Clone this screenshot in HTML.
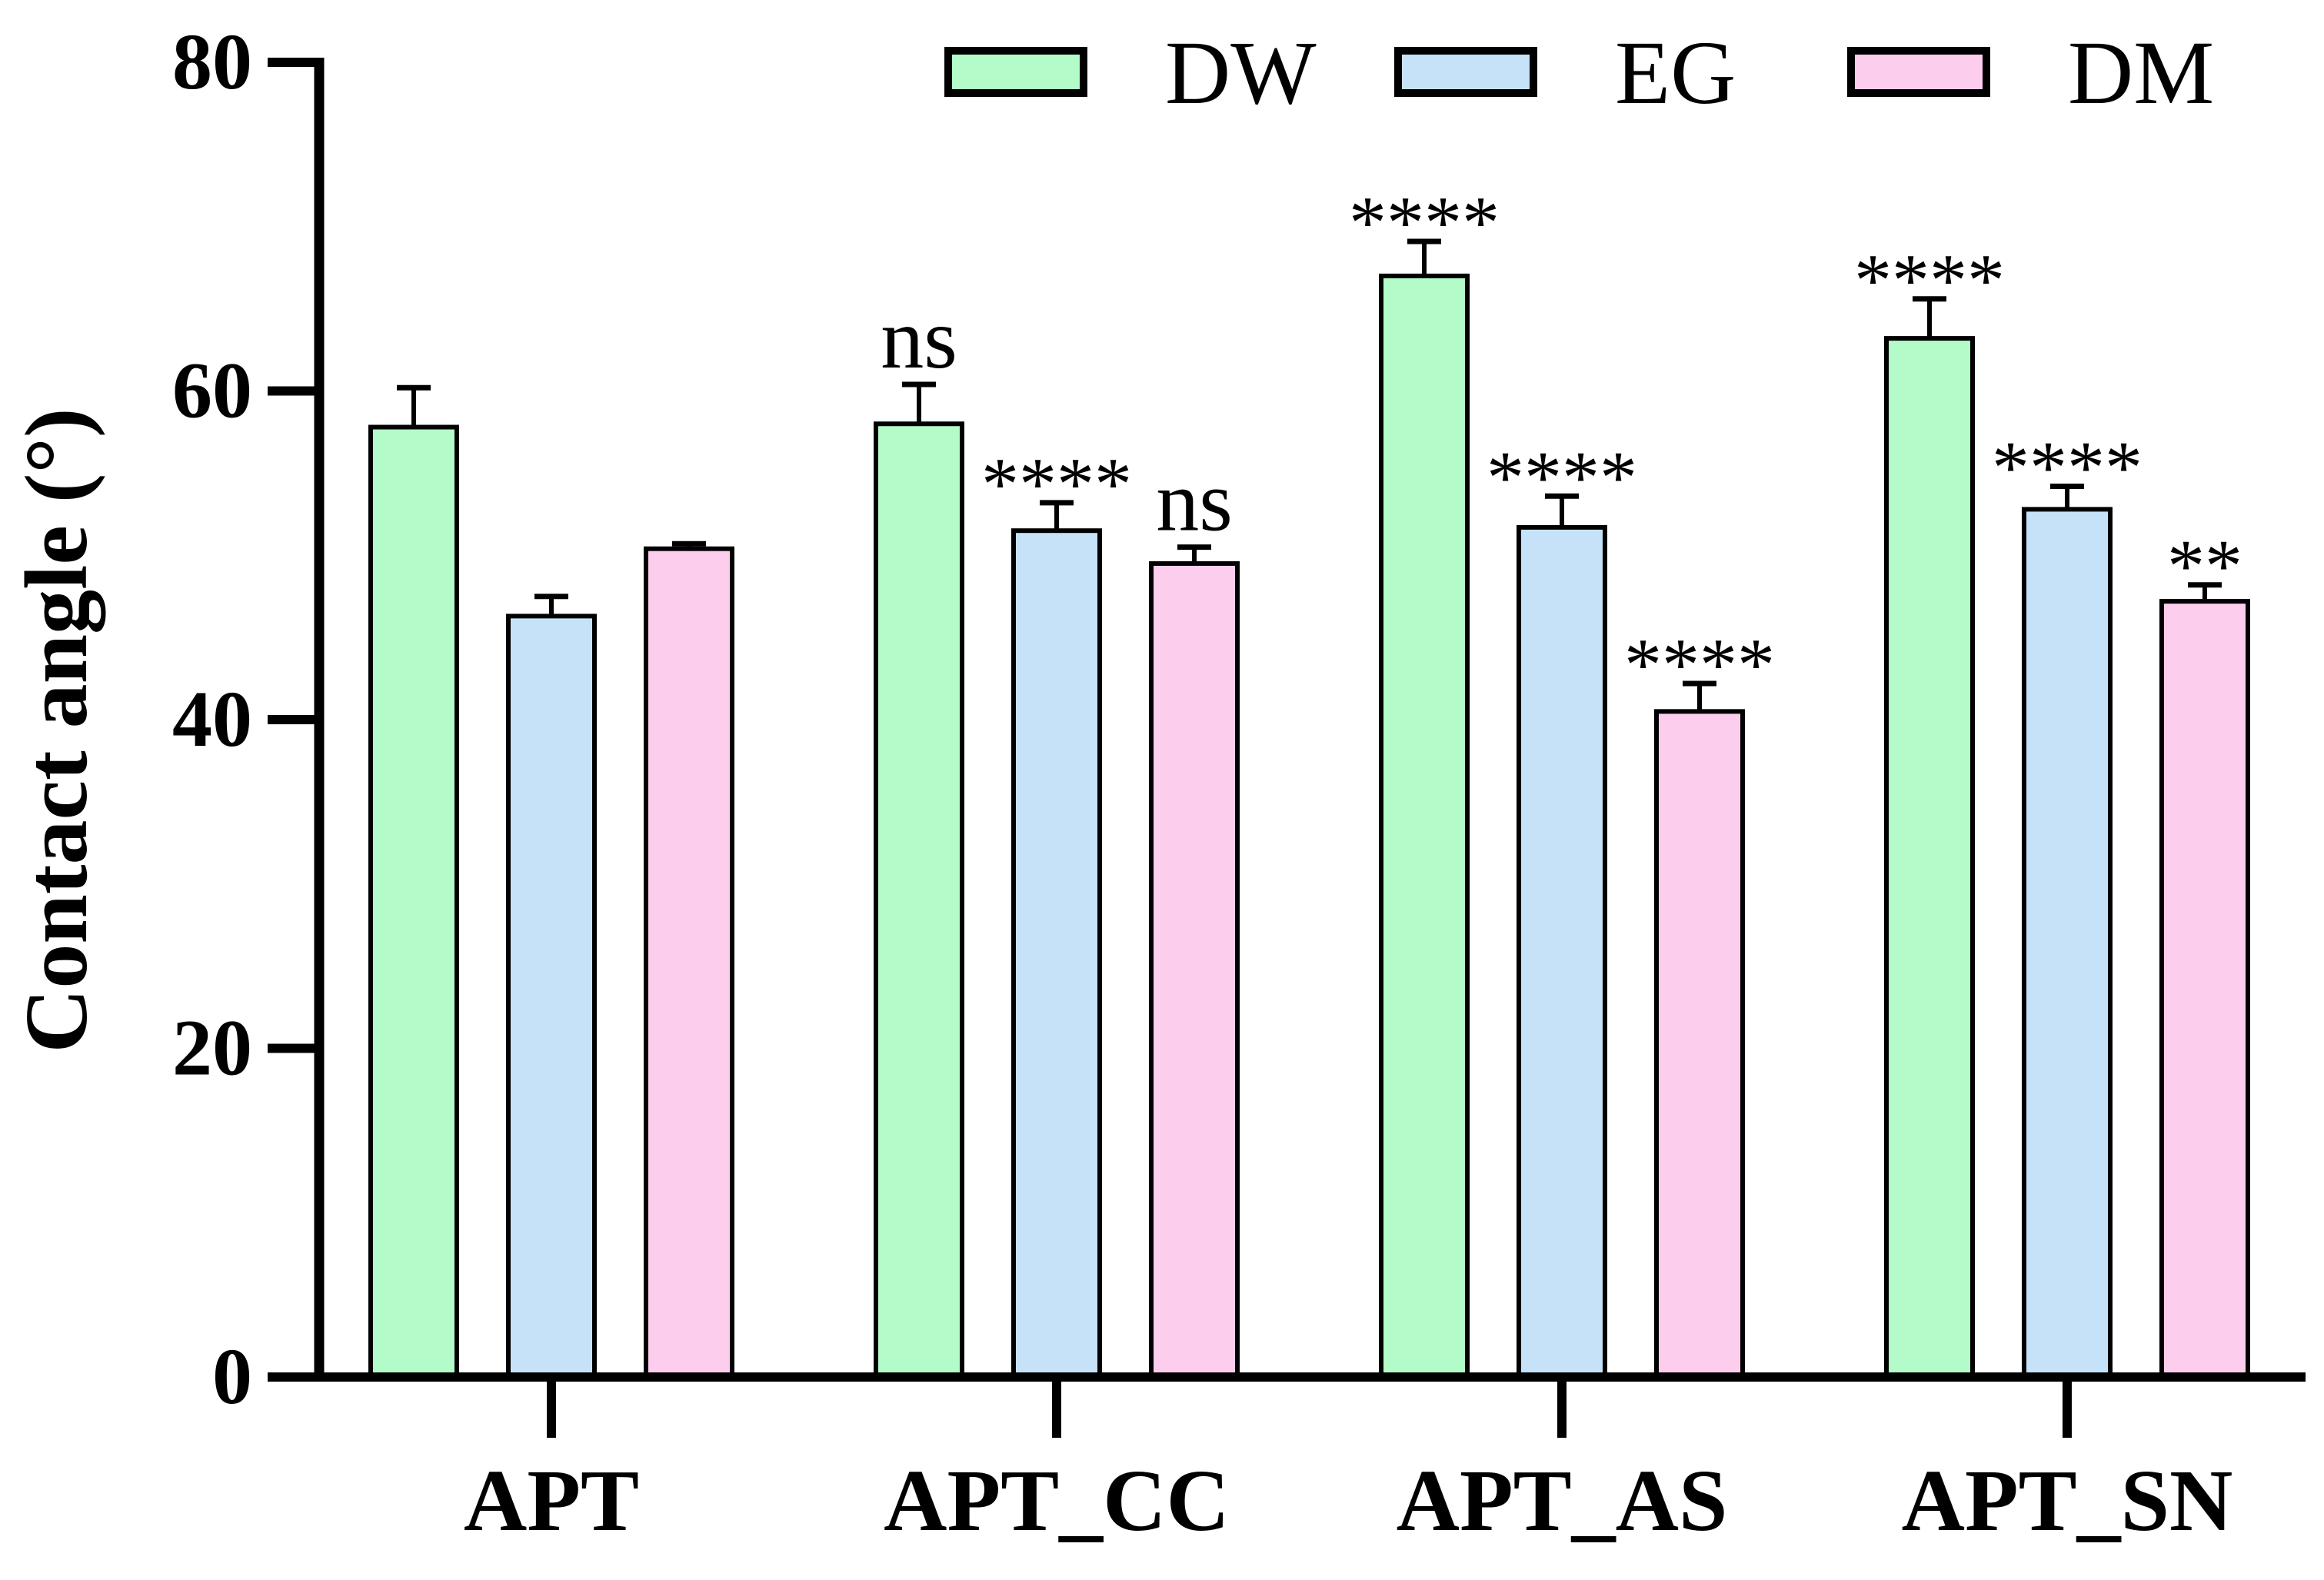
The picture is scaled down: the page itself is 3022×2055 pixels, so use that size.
<!DOCTYPE html>
<html><head><meta charset="utf-8"><style>
html,body{margin:0;padding:0;background:#fff;width:3022px;height:2055px;overflow:hidden}
svg{display:block}
text{font-family:"Liberation Serif","Times New Roman",serif;fill:#000}
</style></head><body>
<svg id="chart" width="3022" height="2055" viewBox="0 0 3022 2055" xmlns="http://www.w3.org/2000/svg">
<g id="plot"></g>
</svg>
<script>
const categories = ["APT","APT_CC","APT_AS","APT_SN"];
const seriesNames = ["DW","EG","DM"];
const dwValues = [57.8, 58.0, 67.0, 63.2];
const egValues = [46.3, 51.5, 51.7, 52.8];
const dmValues = [50.4, 49.5, 40.5, 47.2];
const dwErr = [2.4, 2.4, 2.1, 2.4];
const egErr = [1.2, 1.7, 1.9, 1.4];
const dmErr = [0.3, 1.0, 1.7, 1.0];
const dwSig = ["", "ns", "****", "****"];
const egSig = ["", "****", "****", "****"];
const dmSig = ["", "ns", "****", "**"];
const yTicks = [0,20,40,60,80];

const NS = "http://www.w3.org/2000/svg";
const g = document.getElementById('plot');
const Y0 = 1791, PX = 21.375;
const yS = v => Y0 - v * PX;
const xGroup = i => 717 + i * 657;
const colors = ["#b3fcca","#c5e2f8","#fdcdee"];
const values = [dwValues, egValues, dmValues];
const errs = [dwErr, egErr, dmErr];
const sigs = [dwSig, egSig, dmSig];
const BW = 112, STEP = 179;
function mk(tag, attrs, parent){
  const e = document.createElementNS(NS, tag);
  for (const k in attrs) e.setAttribute(k, attrs[k]);
  (parent||g).appendChild(e); return e;
}
categories.forEach((c, i) => {
  for (let s = 0; s < 3; s++) {
    const cx = xGroup(i) + (s - 1) * STEP;
    const v = values[s][i], top = yS(v), eTop = yS(v + errs[s][i]);
    const eb = mk('line', {x1:cx, x2:cx, y1:top, y2:eTop, stroke:'#000','stroke-width':6});
    
    
    const cap = mk('line', {x1:cx-22, x2:cx+22, y1:eTop, y2:eTop, stroke:'#000','stroke-width':7});
    
    
    const r = mk('rect', {x:cx-BW/2, y:top, width:BW, height:Y0-top, fill:colors[s], stroke:'#000','stroke-width':6});
    
    
    const sg = sigs[s][i];
    if (sg) {
      const star = sg.indexOf('*') >= 0;
      const t = mk('text', {x:cx, y: eTop + (star ? 8 : -22), 'text-anchor':'middle','font-size': star ? 98 : 112});
      t.textContent = sg;
      
      
    }
  }
  const tk = mk('line', {x1:xGroup(i), x2:xGroup(i), y1:Y0, y2:1870, stroke:'#000','stroke-width':12});
  
  
  const lb = mk('text', {x:xGroup(i), y:1990, 'text-anchor':'middle','font-size':114,'font-weight':'bold'});
  lb.textContent = c;
  
  
});
const ya = mk('line', {x1:415, x2:415, y1:75, y2:Y0+6, stroke:'#000','stroke-width':13});


const xa = mk('line', {x1:348, x2:2998, y1:Y0, y2:Y0, stroke:'#000','stroke-width':12});


yTicks.forEach(v => {
  const t = mk('line', {x1:348, x2:415, y1:yS(v), y2:yS(v), stroke:'#000','stroke-width':12});
  
  
  const l = mk('text', {x:328, y:yS(v)+34, 'text-anchor':'end','font-size':104,'font-weight':'bold'});
  l.textContent = v;
  
  
});
const yt = mk('text', {x:0, y:0, transform:'translate(112,950) rotate(-90)', 'text-anchor':'middle','font-size':116,'font-weight':'bold'});
yt.textContent = 'Contact angle (°)';


const legX = [1233, 1818, 2407];
seriesNames.forEach((n, s) => {
  const b = mk('rect', {x:legX[s], y:66, width:176, height:55, fill:colors[s], stroke:'#000','stroke-width':10});
  
  
  const t = mk('text', {x:legX[s]+282, y:134, 'font-size':118});
  t.textContent = n;
  
  
});
</script>
</body></html>
